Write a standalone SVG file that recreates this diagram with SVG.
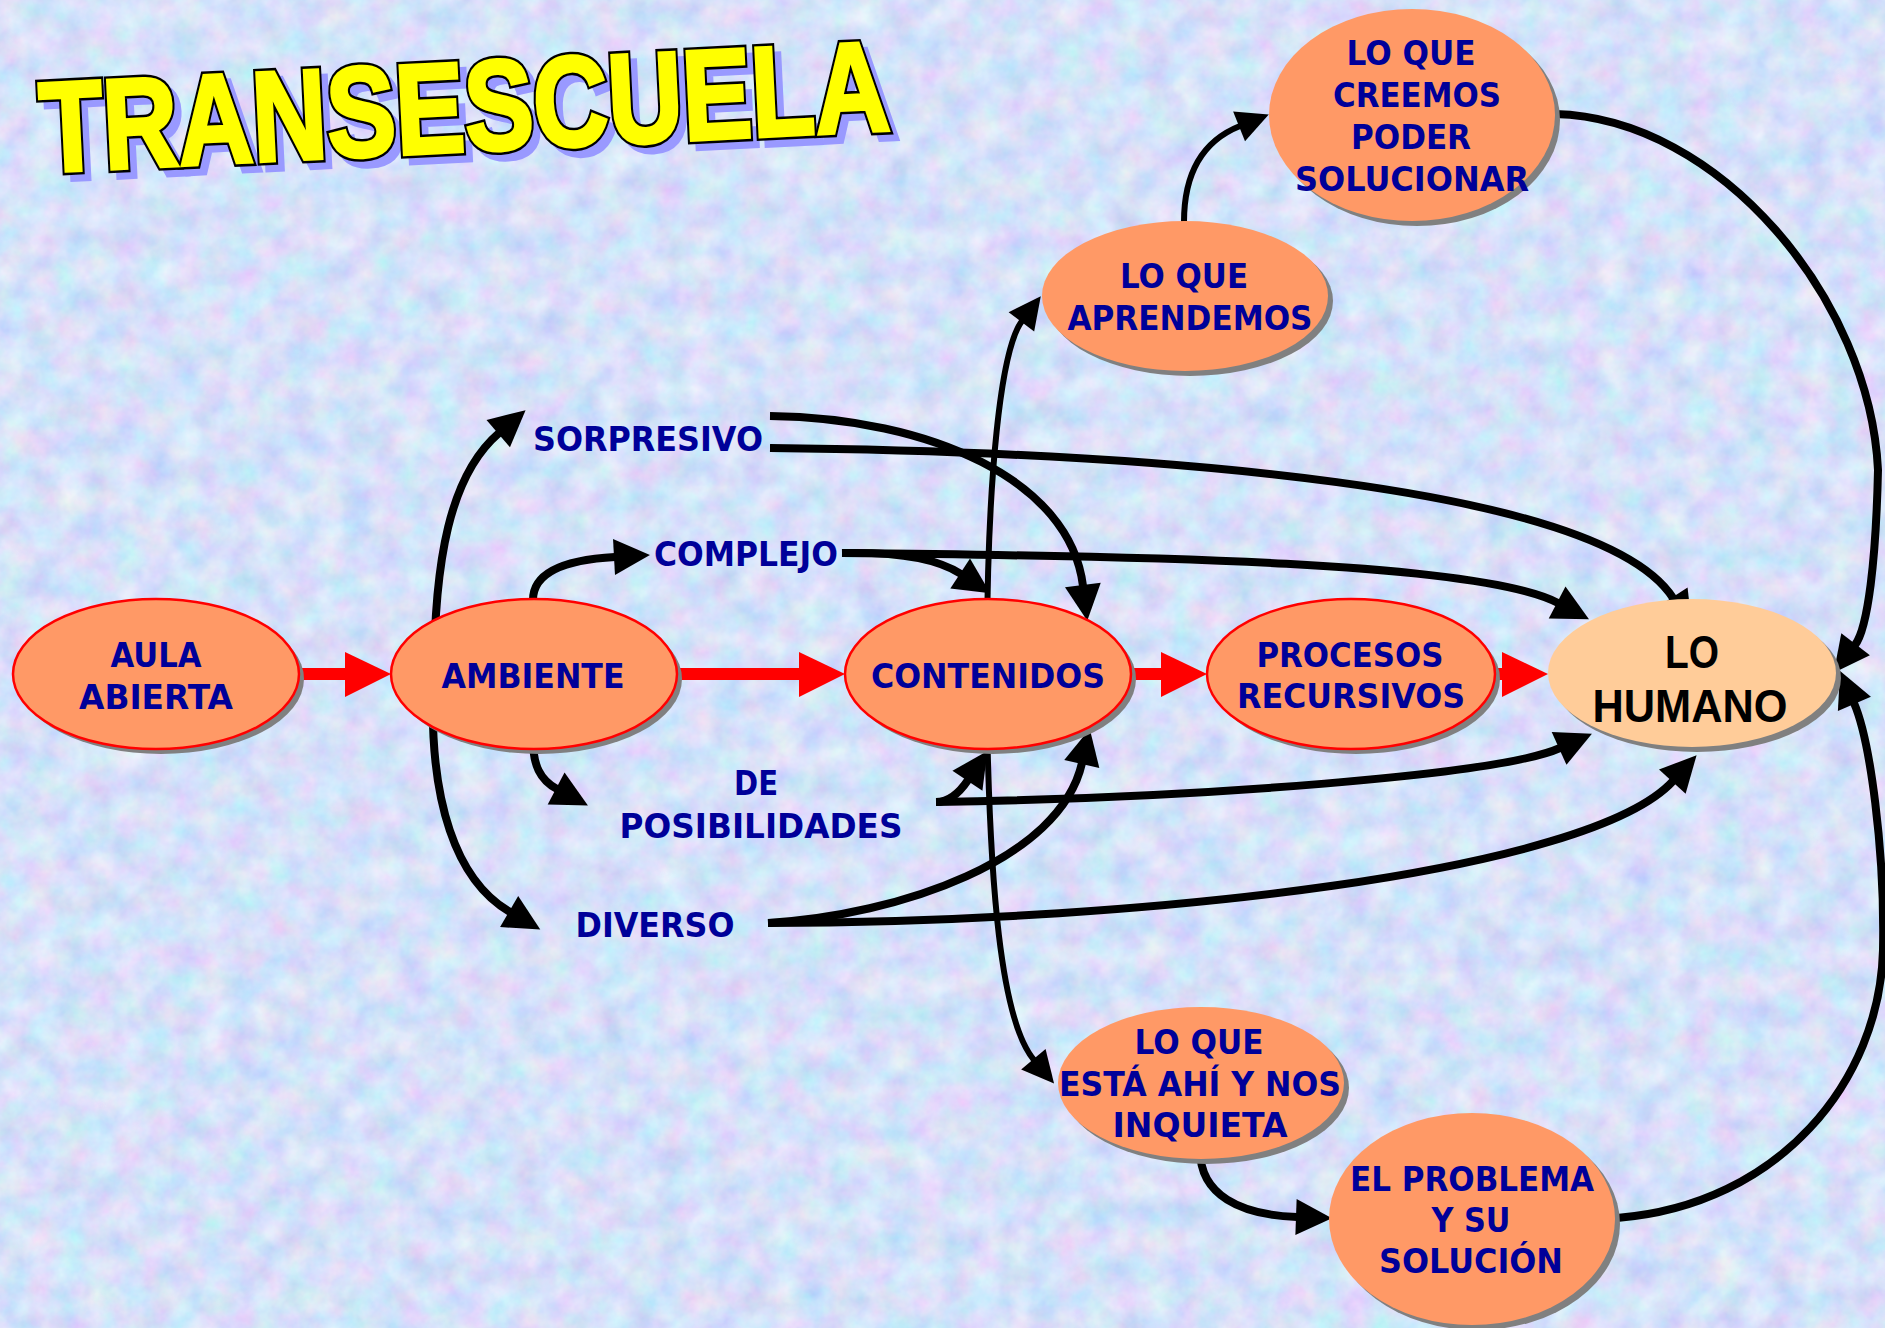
<svg xmlns="http://www.w3.org/2000/svg" width="1885" height="1328" viewBox="0 0 1885 1328">
<defs>
<filter id="tex" x="0" y="0" width="1885" height="1328" filterUnits="userSpaceOnUse">
<feTurbulence type="fractalNoise" baseFrequency="0.035" numOctaves="4" seed="11" result="n"/>
<feColorMatrix in="n" type="matrix" values="0.55 0 0 0 0.42  0 0.45 0 0 0.55  0 0 0.2 0 0.86  0 0 0 0 1"/>
</filter>
<marker id="a" markerUnits="userSpaceOnUse" markerWidth="40" markerHeight="40" refX="1" refY="18" orient="auto" overflow="visible"><path d="M0,0 L36,18 L0,36 z" fill="#000"/></marker>
<marker id="s" markerUnits="userSpaceOnUse" markerWidth="36" markerHeight="36" refX="1" refY="16" orient="auto" overflow="visible"><path d="M0,0 L32,16 L0,32 z" fill="#000"/></marker>
<style>
.c{fill:none;stroke:#000;stroke-width:8;marker-end:url(#a)}
.t{fill:none;stroke:#000;stroke-width:6;marker-end:url(#s)}
.sh{fill:#808080}
.o{fill:#FF9966}
.or{fill:#FF9966;stroke:#FF0000;stroke-width:2.5}
.nt{font-family:"DejaVu Sans","Verdana",sans-serif;font-weight:bold;font-size:33px;fill:#000099;text-anchor:middle}
.hu{font-family:"Liberation Sans","Arial",sans-serif;font-weight:bold;font-size:47px;fill:#000;text-anchor:middle}
.red{fill:#FF0000}
.ti{font-family:"Liberation Sans","Arial",sans-serif;font-weight:bold;font-size:100px}
</style>
</defs>
<rect x="0" y="0" width="1885" height="1328" fill="#BCCFF3"/>
<rect x="0" y="0" width="1885" height="1328" filter="url(#tex)" opacity="0.9"/>

<g id="title" transform="translate(42,172) rotate(-2.83) scale(1,1.28)">
<text class="ti" x="7" y="6" textLength="850" lengthAdjust="spacingAndGlyphs" fill="#9999FF" stroke="#9999FF" stroke-width="6">TRANSESCUELA</text>
<text class="ti" x="0" y="0" textLength="850" lengthAdjust="spacingAndGlyphs" fill="#FFFF00" stroke="#000" stroke-width="7">TRANSESCUELA</text>
<text class="ti" x="0" y="0" textLength="850" lengthAdjust="spacingAndGlyphs" fill="#FFFF00" stroke="#FFFF00" stroke-width="3">TRANSESCUELA</text>
</g>

<g id="connectors">
<path class="c" d="M434 680 C434 560 450 475 499 433"/>
<path class="c" d="M533 600 C533 575 560 560 615 557"/>
<path class="c" d="M842 553 C1150 556 1480 562 1558 603"/>
<path class="c" d="M842 553 C890 552 935 557 961 574"/>
<path class="c" d="M770 416 C930 418 1070 480 1083 586"/>
<path class="c" d="M770 448 C1150 452 1600 485 1673 598"/>
<path class="t" d="M987 640 C988 480 1000 350 1022 321"/>
<path class="t" d="M1184 222 C1184 170 1205 140 1240 126"/>
<path class="c" d="M1555 114 C1720 118 1870 300 1878 470 C1876 560 1868 628 1855 645"/>
<path class="c" d="M1617 1218 C1780 1205 1880 1080 1883 950 C1885 850 1870 740 1854 703"/>
<path class="c" d="M936 802 C950 802 960 792 968 780"/>
<path class="c" d="M936 802 C1200 798 1500 775 1560 748"/>
<path class="c" d="M533 740 C533 765 540 780 557 789"/>
<path class="c" d="M433 690 C430 800 455 880 510 912"/>
<path class="c" d="M768 923 C900 915 1060 860 1082 763"/>
<path class="c" d="M768 923 C1150 922 1590 872 1673 781"/>
<path class="t" d="M987 720 C990 880 1000 1020 1034 1060"/>
<path class="c" d="M1200 1150 C1200 1195 1240 1215 1297 1217"/>
<rect class="red" x="298" y="668" width="50" height="12"/>
<polygon class="red" points="345,652 391,674 345,697"/>
<rect class="red" x="676" y="668" width="126" height="12"/>
<polygon class="red" points="799,652 845,674 799,697"/>
<rect class="red" x="1128" y="668" width="36" height="12"/>
<polygon class="red" points="1161,652 1207,674 1161,697"/>
<rect class="red" x="1492" y="668" width="12" height="12"/>
<polygon class="red" points="1502,652 1548,674 1502,697"/>
</g>

<g id="aula">
<ellipse class="sh" cx="161" cy="679" rx="143" ry="75"/>
<ellipse class="or" cx="156" cy="674" rx="143" ry="75"/>
<text class="nt" x="156" y="667" textLength="91" lengthAdjust="spacingAndGlyphs">AULA</text>
<text class="nt" x="156" y="709" textLength="154" lengthAdjust="spacingAndGlyphs">ABIERTA</text>
</g>
<g id="ambiente">
<ellipse class="sh" cx="539" cy="679" rx="143" ry="75"/>
<ellipse class="or" cx="534" cy="674" rx="143" ry="75"/>
<text class="nt" x="533" y="688" textLength="183" lengthAdjust="spacingAndGlyphs">AMBIENTE</text>
</g>
<g id="contenidos">
<ellipse class="sh" cx="993" cy="679" rx="143" ry="75"/>
<ellipse class="or" cx="988" cy="674" rx="143" ry="75"/>
<text class="nt" x="988" y="688" textLength="234" lengthAdjust="spacingAndGlyphs">CONTENIDOS</text>
</g>
<g id="procesos">
<ellipse class="sh" cx="1356" cy="679" rx="144" ry="75"/>
<ellipse class="or" cx="1351" cy="674" rx="144" ry="75"/>
<text class="nt" x="1350" y="667" textLength="187" lengthAdjust="spacingAndGlyphs">PROCESOS</text>
<text class="nt" x="1351" y="708" textLength="228" lengthAdjust="spacingAndGlyphs">RECURSIVOS</text>
</g>
<g id="humano">
<ellipse class="sh" cx="1697" cy="678" rx="144" ry="74"/>
<ellipse cx="1692" cy="673" rx="144" ry="74" fill="#FFCC99"/>
<text class="hu" x="1692" y="668" textLength="54" lengthAdjust="spacingAndGlyphs">LO</text>
<text class="hu" x="1690" y="722" textLength="195" lengthAdjust="spacingAndGlyphs">HUMANO</text>
</g>
<g id="aprendemos">
<ellipse class="sh" cx="1190" cy="301" rx="143" ry="75"/>
<ellipse class="o" cx="1185" cy="296" rx="143" ry="75"/>
<text class="nt" x="1184" y="288" textLength="128" lengthAdjust="spacingAndGlyphs">LO QUE</text>
<text class="nt" x="1190" y="330" textLength="245" lengthAdjust="spacingAndGlyphs">APRENDEMOS</text>
</g>
<g id="creemos">
<ellipse class="sh" cx="1417" cy="120" rx="143" ry="106"/>
<ellipse class="o" cx="1412" cy="115" rx="143" ry="106"/>
<text class="nt" x="1411" y="65" textLength="129" lengthAdjust="spacingAndGlyphs">LO QUE</text>
<text class="nt" x="1417" y="107" textLength="168" lengthAdjust="spacingAndGlyphs">CREEMOS</text>
<text class="nt" x="1411" y="149" textLength="120" lengthAdjust="spacingAndGlyphs">PODER</text>
<text class="nt" x="1412" y="191" textLength="234" lengthAdjust="spacingAndGlyphs">SOLUCIONAR</text>
</g>
<g id="inquieta">
<ellipse class="sh" cx="1206" cy="1088" rx="143" ry="76"/>
<ellipse class="o" cx="1201" cy="1083" rx="143" ry="76"/>
<text class="nt" x="1199" y="1054" textLength="129" lengthAdjust="spacingAndGlyphs">LO QUE</text>
<text class="nt" x="1200" y="1096" textLength="282" lengthAdjust="spacingAndGlyphs">ESTÁ AHÍ Y NOS</text>
<text class="nt" x="1200" y="1137" textLength="175" lengthAdjust="spacingAndGlyphs">INQUIETA</text>
</g>
<g id="problema">
<ellipse class="sh" cx="1477" cy="1224" rx="143" ry="106"/>
<ellipse class="o" cx="1472" cy="1219" rx="143" ry="106"/>
<text class="nt" x="1472" y="1191" textLength="244" lengthAdjust="spacingAndGlyphs">EL PROBLEMA</text>
<text class="nt" x="1471" y="1232" textLength="79" lengthAdjust="spacingAndGlyphs">Y SU</text>
<text class="nt" x="1471" y="1273" textLength="184" lengthAdjust="spacingAndGlyphs">SOLUCIÓN</text>
</g>
<g id="sorpresivo"><text class="nt" x="648" y="451" textLength="230" lengthAdjust="spacingAndGlyphs">SORPRESIVO</text></g>
<g id="complejo"><text class="nt" x="746" y="566" textLength="184" lengthAdjust="spacingAndGlyphs">COMPLEJO</text></g>
<g id="posibilidades">
<text class="nt" x="756" y="795" textLength="44" lengthAdjust="spacingAndGlyphs">DE</text>
<text class="nt" x="761" y="838" textLength="283" lengthAdjust="spacingAndGlyphs">POSIBILIDADES</text>
</g>
<g id="diverso"><text class="nt" x="655" y="937" textLength="159" lengthAdjust="spacingAndGlyphs">DIVERSO</text></g>
</svg>
